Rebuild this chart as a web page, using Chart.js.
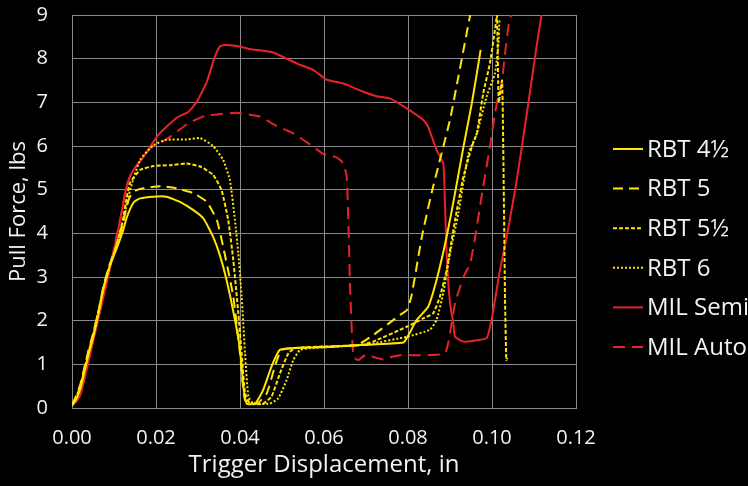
<!DOCTYPE html>
<html>
<head>
<meta charset="utf-8">
<script src="https://cdn.jsdelivr.net/npm/chart.js@4.4.1/dist/chart.umd.min.js"></script>
<style>
  html, body { margin: 0; padding: 0; background: #000; }
  #wrap { width: 748px; height: 486px; }
</style>
</head>
<body>
<div id="wrap"><canvas id="c" width="748" height="486"></canvas></div>
<script>
const seriesNames = ["RBT 4\u00BD", "RBT 5", "RBT 5\u00BD", "RBT 6", "MIL Semi", "MIL Auto"];
const xTicks = [0, 0.02, 0.04, 0.06, 0.08, 0.10, 0.12];
const yTicks = [0, 1, 2, 3, 4, 5, 6, 7, 8, 9];

const rbt45 = [[0,0.05],[0.001,0.2],[0.002,0.45],[0.003,0.85],[0.004,1.25],[0.005,1.6],[0.0065,2.25],[0.0075,2.75],[0.009,3.25],[0.0102,3.55],[0.0112,3.8],[0.0122,4.08],[0.013,4.35],[0.0138,4.55],[0.0148,4.72],[0.0162,4.8],[0.0194,4.84],[0.0225,4.84],[0.0257,4.72],[0.0289,4.53],[0.0313,4.34],[0.0336,3.92],[0.0352,3.5],[0.0368,2.93],[0.0388,2.02],[0.04,1.33],[0.0408,0.49],[0.0416,0.1],[0.0436,0.1],[0.0455,0.41],[0.0475,0.95],[0.0495,1.33],[0.0543,1.38],[0.0622,1.4],[0.0686,1.44],[0.0789,1.5],[0.0797,1.6],[0.0821,2.02],[0.0848,2.32],[0.0868,2.93],[0.0892,3.92],[0.0912,4.92],[0.0932,5.98],[0.0952,6.98],[0.0973,8.2]];
const rbt5 = [[0,0.08],[0.001,0.28],[0.002,0.55],[0.003,0.95],[0.004,1.35],[0.005,1.7],[0.0065,2.3],[0.0075,2.8],[0.009,3.3],[0.0102,3.6],[0.0112,3.9],[0.0122,4.25],[0.013,4.6],[0.0138,4.84],[0.015,4.97],[0.017,5.03],[0.021,5.08],[0.0249,5.03],[0.0289,4.92],[0.0321,4.72],[0.0345,4.3],[0.036,3.69],[0.0384,2.55],[0.04,1.25],[0.0412,0.18],[0.044,0.1],[0.0464,0.34],[0.0483,0.95],[0.0499,1.33],[0.055,1.38],[0.062,1.41],[0.0678,1.44],[0.0717,1.67],[0.0781,2.13],[0.0797,2.24],[0.0808,2.55],[0.0833,3.92],[0.0856,4.92],[0.0876,5.68],[0.09,6.6],[0.092,7.59],[0.0948,9.0]];
const rbt55 = [[0,0.06],[0.001,0.25],[0.002,0.5],[0.003,0.9],[0.004,1.3],[0.005,1.65],[0.0065,2.3],[0.0075,2.75],[0.009,3.25],[0.0102,3.6],[0.0112,3.95],[0.0122,4.35],[0.013,4.8],[0.0138,5.15],[0.0162,5.45],[0.0194,5.54],[0.0233,5.56],[0.0273,5.6],[0.0305,5.53],[0.0336,5.34],[0.0356,4.99],[0.0372,4.3],[0.0384,3.39],[0.0396,2.17],[0.0404,1.25],[0.0412,0.34],[0.0424,0.1],[0.0455,0.1],[0.0475,0.26],[0.0495,0.79],[0.0515,1.25],[0.0531,1.37],[0.06,1.41],[0.0686,1.44],[0.0717,1.52],[0.0797,1.86],[0.0836,2.05],[0.086,2.17],[0.0876,2.55],[0.0892,3.16],[0.0912,4.3],[0.0932,5.3],[0.0952,5.98],[0.0964,6.29],[0.0979,7.2],[0.0995,7.89],[0.1007,8.66],[0.1012,9.0],[0.1016,7.0],[0.1024,7.5],[0.1028,5.0],[0.1031,2.5],[0.1034,1.1],[0.1036,1.15]];
const rbt6 = [[0,0.05],[0.001,0.22],[0.002,0.5],[0.003,0.9],[0.004,1.3],[0.005,1.65],[0.0065,2.3],[0.0075,2.75],[0.009,3.25],[0.0102,3.6],[0.0112,3.95],[0.0122,4.3],[0.013,4.65],[0.014,5.05],[0.0162,5.68],[0.0194,6.02],[0.0225,6.14],[0.0273,6.15],[0.0305,6.18],[0.0336,6.0],[0.036,5.68],[0.0376,5.22],[0.0388,4.3],[0.0396,3.54],[0.0404,2.55],[0.0412,1.25],[0.042,0.26],[0.0432,0.1],[0.0471,0.1],[0.0491,0.22],[0.0511,0.64],[0.0527,1.1],[0.0543,1.33],[0.0567,1.37],[0.062,1.4],[0.0686,1.44],[0.0717,1.48],[0.0797,1.63],[0.0852,1.79],[0.0868,2.02],[0.0884,2.63],[0.09,3.54],[0.092,4.46],[0.0944,5.83],[0.0964,6.29],[0.0987,7.13],[0.1007,7.66],[0.1015,8.3],[0.1018,8.9]];
const milSemi = [[0,0.07],[0.001,0.15],[0.002,0.3],[0.003,0.68],[0.004,1.1],[0.0051,1.56],[0.0063,2.05],[0.0075,2.55],[0.0087,3.05],[0.0098,3.54],[0.0108,4.0],[0.0118,4.46],[0.0126,4.9],[0.0134,5.2],[0.0146,5.45],[0.017,5.75],[0.0202,6.21],[0.0225,6.44],[0.0253,6.67],[0.0277,6.78],[0.0297,7.01],[0.0321,7.47],[0.034,8.04],[0.0352,8.28],[0.036,8.31],[0.0392,8.29],[0.0424,8.22],[0.0479,8.14],[0.0535,7.89],[0.0575,7.74],[0.0606,7.52],[0.0646,7.43],[0.0686,7.27],[0.0725,7.14],[0.0757,7.09],[0.0797,6.86],[0.0836,6.6],[0.0848,6.44],[0.0868,5.91],[0.0884,5.6],[0.0888,4.69],[0.0892,3.54],[0.09,2.4],[0.0908,1.94],[0.0912,1.63],[0.0932,1.52],[0.0956,1.54],[0.0987,1.6],[0.0999,2.02],[0.1019,3.16],[0.1035,3.92],[0.1059,5.22],[0.1083,6.75],[0.1106,8.27],[0.1118,9.0]];
const milAuto = [[0,0.07],[0.001,0.15],[0.002,0.32],[0.003,0.7],[0.004,1.12],[0.0051,1.58],[0.0063,2.08],[0.0075,2.58],[0.0087,3.08],[0.0098,3.56],[0.0108,4.02],[0.0118,4.48],[0.0126,4.9],[0.0134,5.2],[0.0146,5.45],[0.017,5.75],[0.0186,5.95],[0.0229,6.18],[0.0277,6.52],[0.0317,6.69],[0.0352,6.73],[0.0392,6.76],[0.0448,6.67],[0.0487,6.46],[0.0527,6.29],[0.0575,5.98],[0.0598,5.82],[0.063,5.74],[0.0646,5.6],[0.0654,5.3],[0.0658,4.3],[0.0662,2.78],[0.067,1.17],[0.0682,1.1],[0.0698,1.21],[0.0717,1.17],[0.0742,1.11],[0.0761,1.17],[0.0781,1.21],[0.0836,1.21],[0.0888,1.25],[0.09,1.71],[0.0912,2.4],[0.0932,3.0],[0.0948,3.31],[0.096,3.92],[0.0979,5.07],[0.0995,5.98],[0.1007,6.75],[0.1015,7.13],[0.1023,7.43],[0.1031,8.12],[0.1039,8.73],[0.1045,9.0]];

const YELLOW = "#ffe500";
const RED = "#e8212a";
const GRID = "#8a8a8a";
const TEXT = "#f2f2f2";
const FONT = "'Open Sans', 'Noto Sans', sans-serif";

function toPts(arr) { return arr.map(p => ({ x: p[0], y: p[1] })); }

const styles = [
  { data: rbt45, color: YELLOW, dash: [] },
  { data: rbt5, color: YELLOW, dash: [10, 6] },
  { data: rbt55, color: YELLOW, dash: [4, 2] },
  { data: rbt6, color: YELLOW, dash: [2, 2] },
  { data: milSemi, color: RED, dash: [] },
  { data: milAuto, color: RED, dash: [12, 7] }
];

const datasets = styles.map((s, i) => ({
  label: seriesNames[i],
  data: toPts(s.data),
  showLine: true,
  borderColor: s.color,
  backgroundColor: s.color,
  borderWidth: 2,
  borderDash: s.dash,
  pointRadius: 0,
  pointHoverRadius: 0,
  tension: 0.15,
  fill: false
}));

Chart.defaults.font.family = FONT;
Chart.defaults.color = TEXT;

// legend drawn beside the plot from the chart's own dataset list
const sideLegend = {
  id: 'sideLegend',
  afterDraw(chart) {
    const ctx = chart.ctx;
    const x0 = chart.chartArea.right + 37;
    const yStart = 149, step = 39.6;
    ctx.save();
    ctx.font = "24px " + FONT;
    ctx.textBaseline = 'middle';
    ctx.textAlign = 'left';
    chart.data.datasets.forEach((ds, i) => {
      const y = yStart + i * step;
      ctx.strokeStyle = ds.borderColor;
      ctx.lineWidth = 2;
      ctx.setLineDash(ds.borderDash || []);
      ctx.beginPath();
      ctx.moveTo(x0, y);
      ctx.lineTo(x0 + 30, y);
      ctx.stroke();
      ctx.setLineDash([]);
      ctx.fillStyle = TEXT;
      ctx.fillText(ds.label, x0 + 34, y + 1);
    });
    ctx.restore();
  }
};

new Chart(document.getElementById('c'), {
  type: 'scatter',
  data: { datasets },
  options: {
    responsive: false,
    animation: false,
    layout: { padding: { left: 6, right: 172, top: 15, bottom: 0 } },
    plugins: {
      tooltip: { enabled: false },
      legend: { display: false }
    },
    scales: {
      x: {
        type: 'linear',
        min: 0, max: 0.12,
        afterBuildTicks: ax => { ax.ticks = xTicks.map(v => ({ value: v })); },
        afterFit: s => { s.height = 78; },
        ticks: { callback: v => Number(v).toFixed(2), font: { size: 20 }, color: TEXT, padding: 18, maxRotation: 0 },
        grid: { color: GRID, lineWidth: 1, drawTicks: false },
        border: { color: GRID, width: 1 },
        title: { display: true, text: 'Trigger Displacement, in', color: TEXT, font: { size: 24 }, padding: { top: 0, bottom: 6 } }
      },
      y: {
        type: 'linear',
        min: 0, max: 9,
        afterBuildTicks: ax => { ax.ticks = yTicks.map(v => ({ value: v })); },
        afterFit: s => { s.width = 66; s.paddingTop = 0; s.paddingBottom = 0; },
        ticks: { font: { size: 20 }, color: TEXT, padding: 24 },
        grid: { color: GRID, lineWidth: 1, drawTicks: false },
        border: { color: GRID, width: 1 },
        title: { display: true, text: 'Pull Force, lbs', color: TEXT, font: { size: 22 }, padding: { top: 0, bottom: 0 } }
      }
    }
  },
  plugins: [{
    id: 'bg',
    beforeDraw(chart) {
      const ctx = chart.ctx;
      ctx.save();
      ctx.fillStyle = '#000';
      ctx.fillRect(0, 0, chart.width, chart.height);
      ctx.restore();
    }
  }, sideLegend]
});
</script>
</body>
</html>
